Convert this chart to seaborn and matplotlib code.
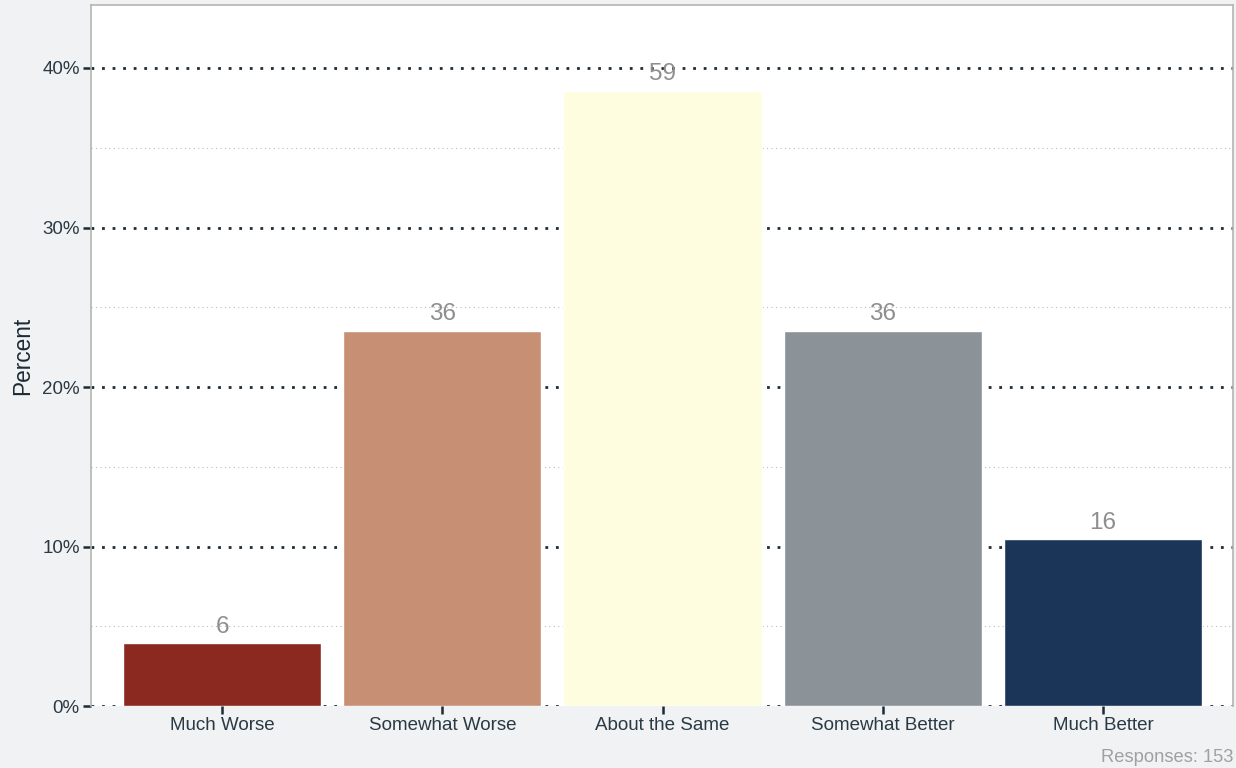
import matplotlib
matplotlib.use('Agg')
import matplotlib.pyplot as plt
import numpy as np
import pandas as pd
import seaborn as sns
from matplotlib.ticker import MultipleLocator, PercentFormatter

categories = ['Much Worse', 'Somewhat Worse', 'About the Same', 'Somewhat Better', 'Much Better']
counts = [6, 36, 59, 36, 16]
bar_colors = ['#8b2920', '#c78f74', '#fefde0', '#8b9298', '#1b3558']

total = sum(counts)
df = pd.DataFrame({
    'category': categories,
    'count': counts,
    'percent': [100 * c / total for c in counts],
})

sns.set_theme(style='white')
plt.rcParams['font.family'] = ['Liberation Sans', 'DejaVu Sans']

fig = plt.figure(figsize=(12.36, 7.68), dpi=100, facecolor='#f0f2f4')
ax = fig.add_axes([0.0736, 0.0807, 0.9240, 0.9128])

sns.barplot(
    data=df,
    x='category',
    y='percent',
    hue='category',
    palette=bar_colors,
    order=categories,
    legend=False,
    width=0.9,
    saturation=1,
    ax=ax,
    zorder=3,
)

ax.set_xlim(-0.595, 4.59)
ax.set_ylim(0, 43.95)
ax.yaxis.set_major_locator(MultipleLocator(10))
ax.yaxis.set_minor_locator(MultipleLocator(5))
ax.yaxis.set_major_formatter(PercentFormatter(decimals=0))

# dark dotted majors, faint dotted minors
ax.grid(axis='y', which='major', linestyle=(0, (1, 2.8)), linewidth=2.0, color='#1c2b36', zorder=1)
ax.grid(axis='y', which='minor', linestyle=(0, (1, 3)), linewidth=0.8, color='#b8bcc0', zorder=1)
ax.set_axisbelow(True)

for side in ['left', 'right', 'top']:
    ax.spines[side].set_color('#b4b4b0')
    ax.spines[side].set_linewidth(1.2)
ax.spines['bottom'].set_visible(False)

ax.tick_params(axis='y', which='major', left=True, length=6, width=1.8, color='#1c2b36',
               labelsize=13.5, labelcolor='#2a3a45', pad=2)
ax.tick_params(axis='y', which='minor', left=False)
ax.tick_params(axis='x', bottom=True, length=6, width=1.8, color='#1c2b36',
               labelsize=13.5, labelcolor='#2a3a45', pad=2)

ax.set_xlabel('')
ax.set_ylabel('Percent', fontsize=16.3, color='#1c2b36', labelpad=6)

for i, (pct, n) in enumerate(zip(df['percent'], df['count'])):
    ax.annotate(str(n), xy=(i, pct), xytext=(0, 4), textcoords='offset points',
                ha='center', va='bottom', fontsize=17.5, color='#8f8f8f', zorder=4)

fig.text(0.9976, 0.003, f'Responses: {total}', ha='right', va='bottom',
         fontsize=13.2, color='#a0a0a0')

fig.savefig('out.png', dpi=100, facecolor=fig.get_facecolor())
